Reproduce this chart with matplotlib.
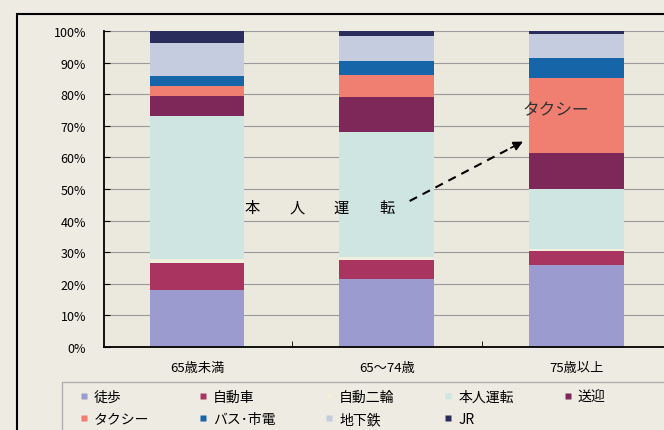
import matplotlib
matplotlib.use("Agg")
import matplotlib.pyplot as plt
from matplotlib.patches import Rectangle
from matplotlib.lines import Line2D
import numpy as np

plt.rcParams['font.family'] = ['Noto Sans CJK JP', 'DejaVu Sans']

# 年齢層別の交通手段構成比 (%)
groups = ['65歳未満', '65～74歳', '75歳以上']
walk = [18, 21.5, 26]
car = [8.5, 6, 4.5]
moto = [1.5, 1, 0.5]
self_drive = [45, 39.5, 19]
pickup = [6.5, 11, 11.5]
taxi = [3, 7, 23.5]
bus = [3.3, 4.5, 6.5]
subway = [10.5, 8, 7.5]
jr = [3.7, 1.5, 1]

series = [
    ('徒歩', walk, '#9b9bd0'),
    ('自動車', car, '#a8345f'),
    ('自動二輪', moto, '#f0eedc'),
    ('本人運転', self_drive, '#cfe5e2'),
    ('送迎', pickup, '#7d2858'),
    ('タクシー', taxi, '#f07f72'),
    ('バス･市電', bus, '#1565a8'),
    ('地下鉄', subway, '#c6cce0'),
    ('JR', jr, '#2a2c5c'),
]

fig = plt.figure(figsize=(6.64, 4.31), dpi=100)
fig.patch.set_facecolor('#eeebe2')
ax = fig.add_axes([104 / 664, 1 - 348 / 431, 560 / 664, 316 / 431])
ax.set_facecolor('#ebe8de')

x = np.arange(len(groups))
bottom = np.zeros(len(groups))
handles = []
for name, vals, col in series:
    ax.bar(x, vals, width=0.5, bottom=bottom, color=col, edgecolor='none', zorder=2)
    bottom += np.array(vals)
    handles.append(Line2D([], [], marker='s', ls='none', markersize=5,
                          markerfacecolor=col, markeredgecolor='none', label=name))

ax.set_xlim(-0.49, 2.46)
ax.set_ylim(0, 100)
ax.set_yticks(np.arange(0, 101, 10))
ax.set_yticklabels([f'{v}%' for v in range(0, 101, 10)], fontsize=9)
ax.set_xticks(x)
ax.set_xticklabels(groups, fontsize=9.5)
ax.set_xticks([0.5, 1.5], minor=True)
ax.tick_params(axis='x', which='major', length=0, pad=10)
ax.tick_params(axis='x', which='minor', length=4, direction='in')
ax.tick_params(axis='y', length=4, direction='in', pad=13)
ax.grid(axis='y', color='#9a9a9a', lw=0.8, zorder=1)
for s in ['top', 'right']:
    ax.spines[s].set_visible(False)
for s in ['left', 'bottom']:
    ax.spines[s].set_linewidth(1.3)

# 注記
for cx, ch in zip([0.29, 0.53, 0.76, 1.0], '本人運転'):
    ax.text(cx, 44.3, ch, fontsize=11, ha='center', va='center', zorder=3)
ax.plot([1.12, 1.66], [46.2, 63.2], ls=(0, (4, 3)), lw=1.5, color='black', zorder=3)
ax.annotate('', xy=(1.73, 65.4), xytext=(1.64, 62.6),
            arrowprops=dict(arrowstyle='-|>', color='black', lw=1.2, mutation_scale=14),
            zorder=3)
ax.text(1.89, 75.0, 'タクシー', fontsize=12, color='#333333', ha='center', va='center', zorder=3)

# 外枠と凡例枠
fig.patches.append(Rectangle((17 / 664, -0.01), 1, 1 - 15 / 431 + 0.01,
                             transform=fig.transFigure, fill=False,
                             edgecolor='black', lw=1.5))
fig.patches.append(Rectangle((62 / 664, -0.01), 1, 1 - 383 / 431 + 0.01,
                             transform=fig.transFigure, fill=False,
                             edgecolor='#b0b0b0', lw=1.0))

order = [0, 5, 1, 6, 2, 7, 3, 8, 4]
leg = fig.legend([handles[i] for i in order], [handles[i].get_label() for i in order],
                 loc='upper left', bbox_to_anchor=(80 / 664, 1 - 391 / 431, 525 / 664, 0.0),
                 mode='expand', ncol=5, fontsize=10, frameon=False,
                 handlelength=0.6, handletextpad=0.4, columnspacing=1.0,
                 borderpad=0.0, borderaxespad=0.0, labelspacing=0.6)

fig.savefig('out.png', dpi=100, facecolor=fig.get_facecolor())
